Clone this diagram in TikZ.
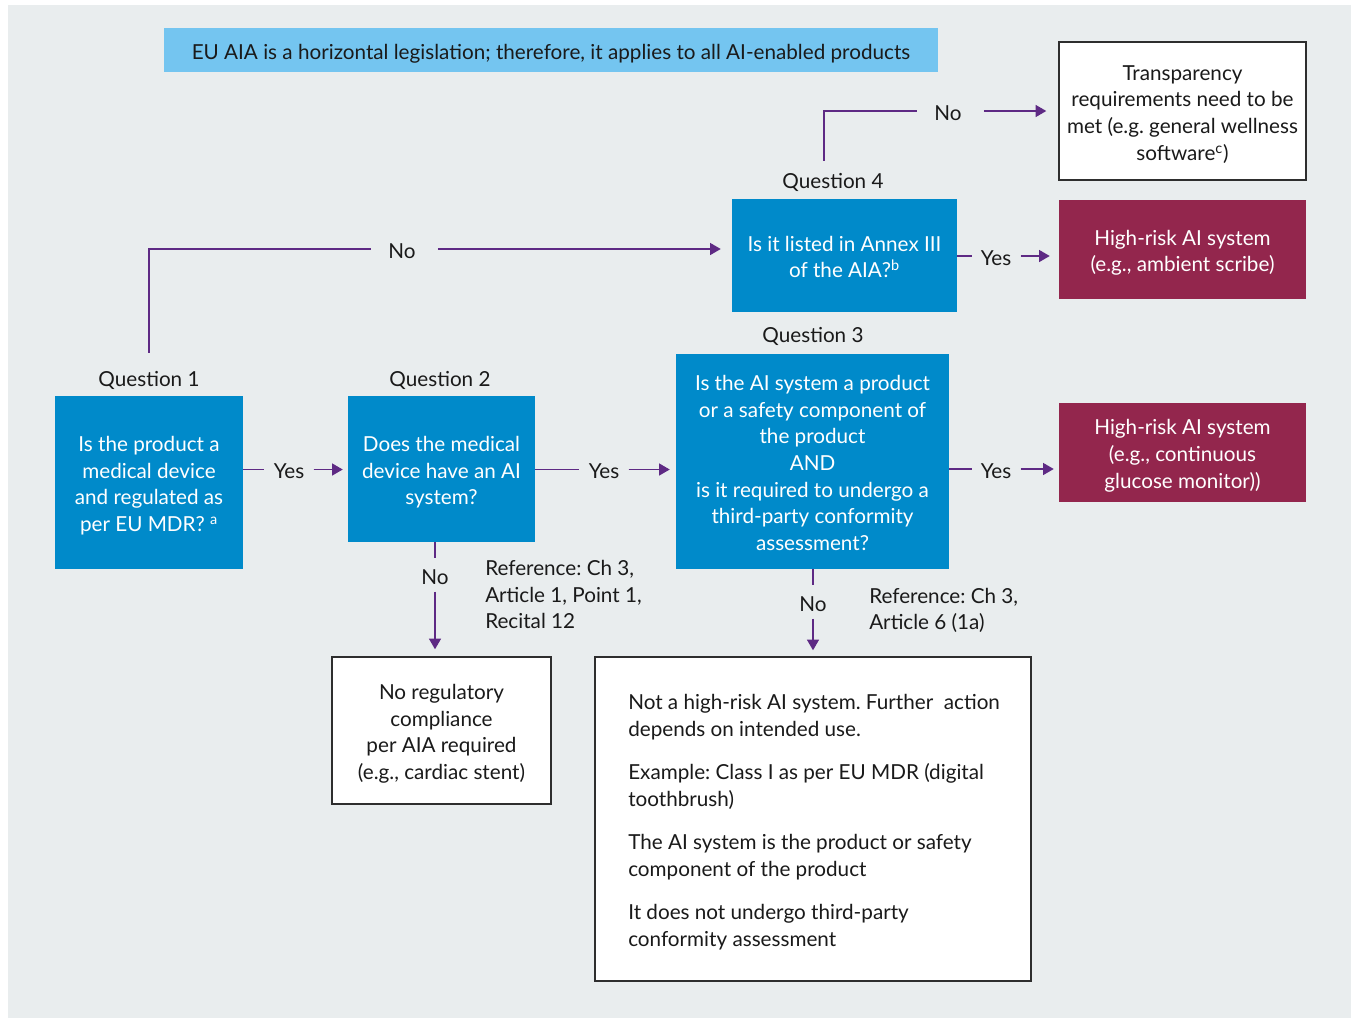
\documentclass[tikz,border=0pt]{standalone}
\usepackage{fontspec}
\setmainfont{Lato}
\frenchspacing
\usetikzlibrary{arrows.meta}
\definecolor{pagebg}{HTML}{E9EDEE}
\definecolor{bannerblue}{HTML}{74C5F0}
\definecolor{qblue}{HTML}{008ACA}
\definecolor{riskred}{HTML}{93264D}
\definecolor{linkpurple}{HTML}{5E2A84}
\definecolor{inkdark}{HTML}{1A1A1A}
\definecolor{edgegray}{HTML}{2E2E2E}
% fixed first-line height and last-line depth, so every text block sits alike
\newcommand\tsu{\rule{0pt}{16.8pt}}
\newcommand\bsu{\rule[-3.2pt]{0pt}{3.2pt}}
\begin{document}
\begin{tikzpicture}[x=0.75pt,y=-0.75pt,
  every node/.style={font=\fontsize{15.5}{20}\selectfont, text=inkdark},
  sz/.style 2 args={minimum width=#1*0.75pt, minimum height=#2*0.75pt, inner sep=0pt, align=center},
  qbox/.style={fill=qblue, text=white},
  riskbox/.style={fill=riskred, text=white},
  outbox/.style={fill=white, draw=edgegray, line width=1.1pt},
  oneline/.style={text height=16.8pt, text depth=3.2pt},
  qlab/.style={oneline, inner sep=0pt},
  lab/.style={oneline, inner xsep=6.75pt, inner ysep=2.4pt},
  nolab/.style={oneline, inner xsep=12.75pt, inner ysep=2.4pt},
  ln/.style={draw=linkpurple, line width=1pt},
  arr/.style={ln, -{Triangle[length=8pt,width=9pt]}, fill=linkpurple}
]
\useasboundingbox (0,0) rectangle (1351,1018);
\fill[pagebg] (8,5) rectangle (1351,1018);

% banner
\node[sz={774}{44}, fill=bannerblue] (banner) at (551,50)
  {\tsu EU AIA is a horizontal legislation; therefore, it applies to all AI-enabled products\bsu};

% question boxes
\node[sz={188}{173}, qbox] (q1) at (149,482.5)
  {\tsu Is the product a\\medical device\\and regulated as\\per EU MDR? \textsuperscript{a}\bsu};
\node[sz={187}{146}, qbox] (q2) at (441.5,469)
  {\tsu Does the medical\\device have an AI\\system?\bsu};
\node[sz={273}{215}, qbox] (q3) at (812.5,461.5)
  {\tsu Is the AI system a product\\or a safety component of\\the product\\AND\\is it required to undergo a\\third-party conformity\\assessment?\bsu};
\node[sz={225}{113}, qbox] (q4) at (844.5,255.5)
  {\tsu Is it listed in Annex III\\of the AIA?\textsuperscript{b}\bsu};

% question titles
\node[qlab] (q1lab) at (149,377) {Question 1};
\node[qlab] (q2lab) at (440,377) {Question 2};
\node[qlab] (q3lab) at (813,333) {Question 3};
\node[qlab] (q4lab) at (833,179.5) {Question 4};

% outcomes
\node[sz={247}{138}, outbox] (trans) at (1182.5,111)
  {\tsu Transparency\\requirements need to be\\met (e.g. general wellness\\software\textsuperscript{c})\bsu};
\node[sz={247}{99}, riskbox] (hr1) at (1182.5,249.5)
  {\tsu High-risk AI system\\(e.g., ambient scribe)\bsu};
\node[sz={247}{99}, riskbox] (hr2) at (1182.5,452.5)
  {\tsu High-risk AI system\\(e.g., continuous\\glucose monitor))\bsu};
\node[sz={219}{147}, outbox] (noreg) at (441.5,730.5)
  {\tsu No regulatory\\compliance\\per AIA required\\(e.g., cardiac stent)\bsu};
\node[sz={436}{324}, outbox] (big) at (813,819) {};
\node[anchor=west, inner sep=0pt, align=left] (bigtext) at (628,819)
  {\tsu Not a high-risk AI system. Further\ \ action\\depends on intended use.\\[12.4pt]
   Example: Class I as per EU MDR (digital\\toothbrush)\\[12.4pt]
   The AI system is the product or safety\\component of the product\\[12.4pt]
   It does not undergo third-party\\conformity assessment\bsu};

% references
\node[anchor=west, inner sep=0pt, align=left] (ref1) at (485,593)
  {\tsu Reference: Ch 3,\\Article 1, Point 1,\\Recital 12\bsu};
\node[anchor=west, inner sep=0pt, align=left] (ref2) at (869,607.5)
  {\tsu Reference: Ch 3,\\Article 6 (1a)\bsu};

% connector labels
\node[nolab] (noA) at (402,249) {No};
\node[nolab] (noB) at (948,111) {No};
\node[lab] (yes1) at (289,469.5) {Yes};
\node[lab] (yes2) at (604,469.5) {Yes};
\node[lab] (yes3) at (996,469) {Yes};
\node[lab] (yes4) at (996,256) {Yes};
\node[lab] (no2) at (435,575) {No};
\node[lab] (no3) at (813,602) {No};

% connectors
\draw[ln] ([yshift=8pt]q1lab.north) |- (noA.west);
\draw[arr, shorten <=3.75pt, shorten >=8.25pt] (noA.east) -- (noA -| q4.west);
\draw[ln] ([xshift=-6.75pt,yshift=3.9pt]q4lab.north) |- (noB.west);
\draw[arr, shorten <=3.75pt, shorten >=9pt] (noB.east) -- (noB -| trans.west);
\draw[ln] (q4.east |- yes4) -- (yes4.west);
\draw[arr, shorten >=6.75pt] (yes4.east) -- (yes4 -| hr1.west);
\draw[ln] (q1.east |- yes1) -- (yes1.west);
\draw[arr, shorten >=3.75pt] (yes1.east) -- (yes1 -| q2.west);
\draw[ln] (q2.east |- yes2) -- (yes2.west);
\draw[arr, shorten >=4.5pt] (yes2.east) -- (yes2 -| q3.west);
\draw[ln] (q3.east |- yes3) -- (yes3.west);
\draw[arr, shorten >=3.75pt] (yes3.east) -- (yes3 -| hr2.west);
\draw[ln] (q2.south -| no2) -- (no2.north);
\draw[arr, shorten >=5.25pt] (no2.south) -- (no2 |- noreg.north);
\draw[ln] (q3.south -| no3) -- (no3.north);
\draw[arr, shorten >=4.5pt] (no3.south) -- (no3 |- big.north);
\end{tikzpicture}
\end{document}
